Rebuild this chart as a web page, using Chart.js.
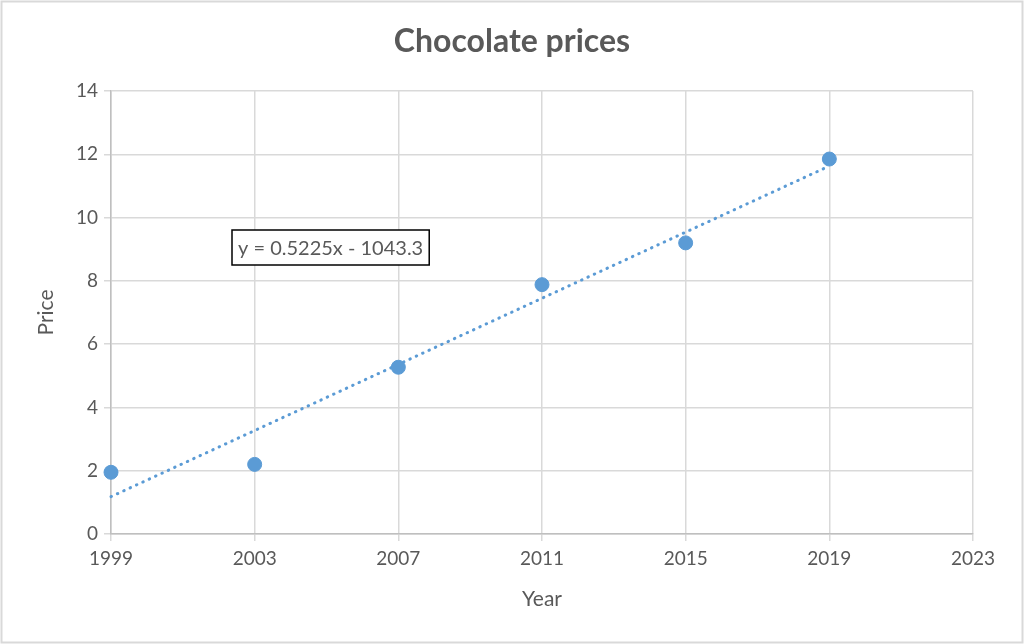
<!DOCTYPE html>
<html>
<head>
<meta charset="utf-8">
<script src="https://cdn.jsdelivr.net/npm/chart.js@4"></script>
<style>
  html, body { margin: 0; padding: 0; background: #fff; }
  #wrap { width: 1024px; height: 644px; }
</style>
</head>
<body>
<div id="wrap"><canvas id="chocoChart" width="1024" height="644"></canvas></div>
<script>
// data
const years = [1999, 2003, 2007, 2011, 2015, 2019]
const prices = [1.95, 2.2, 5.27, 7.88, 9.2, 11.85]
// linear trend, ends read where the dotted line starts and stops
const trendYears = [1999, 2019]
const trendPrices = [1.18, 11.63]
const chartTitle = 'Chocolate prices'
const equationText = 'y = 0.5225x - 1043.3'

const blue = '#5B9BD5'
const textGrey = '#595959'
const gridGrey = '#d9d9d9'
const axisGrey = '#bfbfbf'

// frame, title (centred on the whole picture, not the plot) and trendline label box
const extras = {
  id: 'extras',
  afterDraw (chart) {
    const { ctx, chartArea } = chart
    ctx.save()
    ctx.strokeStyle = gridGrey
    ctx.lineWidth = 2
    ctx.strokeRect(1.5, 1.5, chart.width - 3, chart.height - 3)

    ctx.fillStyle = textGrey
    ctx.font = 'bold 32px Lato'
    ctx.textAlign = 'center'
    ctx.textBaseline = 'middle'
    ctx.fillText(chartTitle, chart.width / 2, 42)

    // equation box, placed relative to the plot area
    const bx = chartArea.left + 121
    const by = chartArea.top + 139
    ctx.font = '20px Lato'
    ctx.textAlign = 'left'
    const tw = ctx.measureText(equationText).width
    const bw = tw + 12
    const bh = 35
    ctx.fillStyle = '#fff'
    ctx.fillRect(bx, by, bw, bh)
    ctx.strokeStyle = '#000'
    ctx.lineWidth = 1.5
    ctx.strokeRect(bx, by, bw, bh)
    ctx.fillStyle = textGrey
    ctx.fillText(equationText, bx + 6, by + bh / 2 + 1)
    ctx.restore()
  }
}

const ctx = document.getElementById('chocoChart')
new Chart(ctx, {
  type: 'scatter',
  data: {
    datasets: [
      {
        label: 'Price',
        data: years.map((y, i) => ({ x: y, y: prices[i] })),
        backgroundColor: blue,
        borderColor: blue,
        pointRadius: 7,
        pointHoverRadius: 7,
        clip: false,
        order: 1
      },
      {
        label: 'Trend',
        type: 'line',
        data: trendYears.map((y, i) => ({ x: y, y: trendPrices[i] })),
        borderColor: blue,
        borderWidth: 3,
        borderDash: [0.5, 6.5],
        borderCapStyle: 'round',
        pointRadius: 0,
        fill: false,
        clip: false,
        order: 2
      }
    ]
  },
  options: {
    responsive: false,
    animation: false,
    layout: { padding: { left: 30, right: 51, top: 91, bottom: 22 } },
    plugins: {
      legend: { display: false },
      tooltip: { enabled: false },
      title: { display: false }
    },
    scales: {
      x: {
        type: 'linear',
        min: 1999,
        max: 2023,
        afterFit (scale) { scale.height = 88 },
        ticks: {
          stepSize: 4,
          color: textGrey,
          font: { family: 'Lato', size: 19 },
          padding: 6,
          callback: (v) => String(v)
        },
        grid: { color: gridGrey, lineWidth: 1.5, tickLength: 7 },
        border: { color: axisGrey, width: 1.5 },
        title: {
          display: true,
          text: 'Year',
          color: textGrey,
          font: { family: 'Lato', size: 21 },
          padding: { top: 0, bottom: 10 }
        }
      },
      y: {
        min: 0,
        max: 14,
        afterFit (scale) { scale.width = 81 },
        ticks: {
          stepSize: 2,
          color: textGrey,
          font: { family: 'Lato', size: 19 },
          padding: 6
        },
        grid: { color: gridGrey, lineWidth: 1.5, tickLength: 7 },
        border: { color: axisGrey, width: 1.5 },
        title: {
          display: true,
          text: 'Price',
          color: textGrey,
          font: { family: 'Lato', size: 21 },
          padding: { top: 4, bottom: 0 }
        }
      }
    }
  },
  plugins: [extras]
})
</script>
</body>
</html>
